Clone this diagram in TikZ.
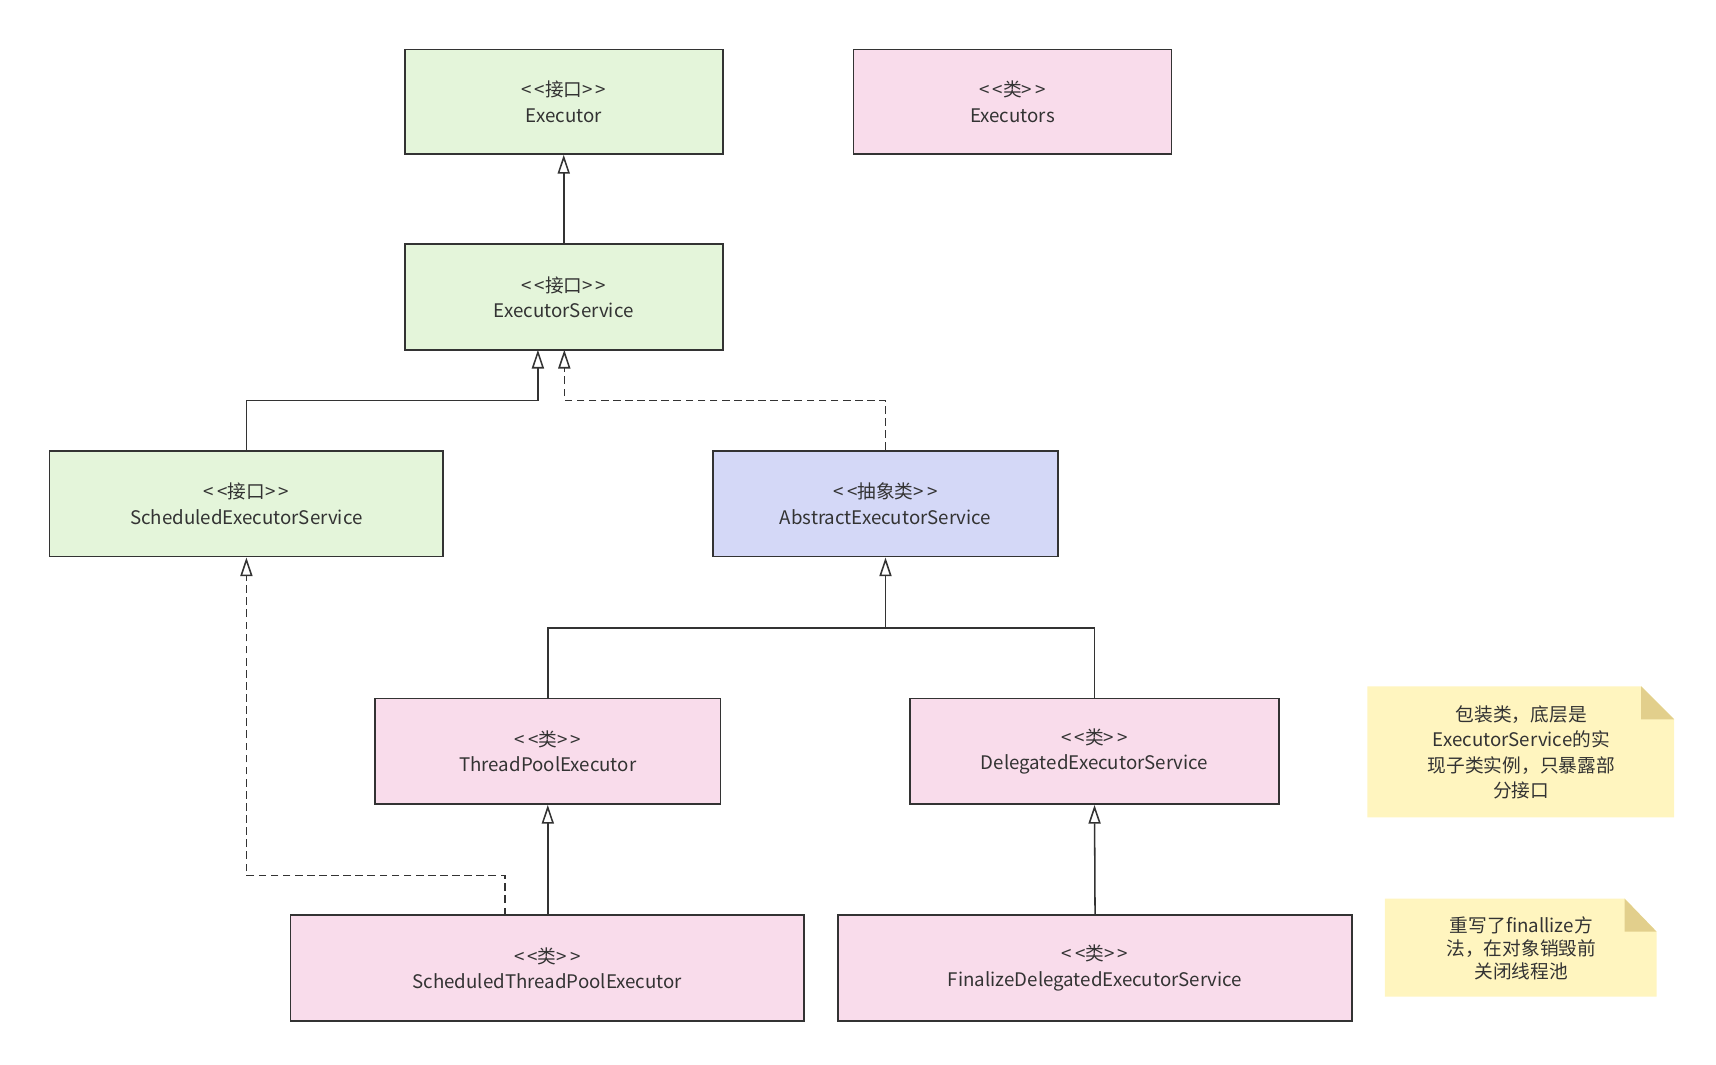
\documentclass[tikz,border=0pt]{standalone}
\usepackage{fontspec}
\setmainfont{Noto Sans CJK SC}
\usetikzlibrary{arrows.meta}
\definecolor{gr}{HTML}{E4F5DA}
\definecolor{pk}{HTML}{F9DCEB}
\definecolor{bl}{HTML}{D4D8F7}
\definecolor{nt}{HTML}{FFF5BF}
\definecolor{fd}{HTML}{E2CF8C}
\definecolor{ln}{HTML}{333333}
\begin{document}
\begin{tikzpicture}[x=1pt,y=-1pt,
  box/.style={draw=ln,line width=1.6pt,font=\fontsize{17}{23}\selectfont,text=ln,align=center},
  inh/.style={draw=ln,line width=1.4pt,-{Triangle[open,width=11pt,length=17pt]}},
  dsh/.style={inh,dash pattern=on 7pt off 4pt},
  nfont/.style={font=\fontsize{17}{23}\selectfont,text=ln,align=center}]
\useasboundingbox (0,0) rectangle (1560,968);
\newcommand{\bx}[6]{\node[box,fill=#6,minimum width=#4-#2,minimum height=#5-#3] (#1) at ({(#2+#4)/2},{(#3+#5)/2}) {};}
\bx{ex}{368}{45}{657}{140}{gr}
\bx{exs}{776}{45}{1065}{140}{pk}
\bx{es}{368}{222}{657}{318}{gr}
\bx{ses}{45}{410}{403}{506}{gr}
\bx{aes}{648}{410}{962}{506}{bl}
\bx{tpe}{341}{635}{655}{731}{pk}
\bx{des}{827}{635}{1163}{731}{pk}
\bx{stpe}{264}{832}{731}{928}{pk}
\bx{fdes}{762}{832}{1229}{928}{pk}
\newcommand{\lab}[3]{\node[nfont] at (#1.center) {<\,<#2>\,>\\#3};}
\lab{ex}{接口}{Executor}
\lab{exs}{类}{Executors}
\lab{es}{接口}{ExecutorService}
\lab{ses}{接口}{ScheduledExecutorService}
\lab{aes}{抽象类}{AbstractExecutorService}
\lab{tpe}{类}{ThreadPoolExecutor}
\lab{des}{类}{DelegatedExecutorService}
\lab{stpe}{类}{ScheduledThreadPoolExecutor}
\lab{fdes}{类}{FinalizeDelegatedExecutorService}
% connectors
\coordinate (esA) at (489,318);
\coordinate (esB) at (513,318);
\coordinate (stD) at (459,832);
\draw[inh] (es.north) -- (ex.south);
\draw[inh] (ses.north) |- (489,364) -- (esA);
\draw[dsh] (aes.north) |- (513,364) -- (esB);
\draw[inh] (tpe.north) |- (805,571) -- (aes.south);
\draw[line width=1.4pt,draw=ln] (des.north) |- (805,571);
\draw[inh] (498,832) -- (tpe.south);
\draw[dsh] (stD) |- (224,796) -- (ses.south);
\draw[inh] (fdes.north) -- (des.south);
% notes
\fill[nt] (1243,624) -- (1492,624) -- (1522,654) -- (1522,743) -- (1243,743) -- cycle;
\fill[fd] (1492,624) -- (1522,654) -- (1492,654) -- cycle;
\node[nfont] (n1) at (1383,684) {包装类，底层是\\ExecutorService的实\\现子类实例，只暴露部\\分接口};
\fill[nt] (1259,817) -- (1477,817) -- (1506,847) -- (1506,906) -- (1259,906) -- cycle;
\fill[fd] (1477,817) -- (1506,847) -- (1477,847) -- cycle;
\node[nfont,font=\fontsize{17}{21}\selectfont] (n2) at (1383,862) {重写了finallize方\\法，在对象销毁前\\关闭线程池};
\end{tikzpicture}
\end{document}
